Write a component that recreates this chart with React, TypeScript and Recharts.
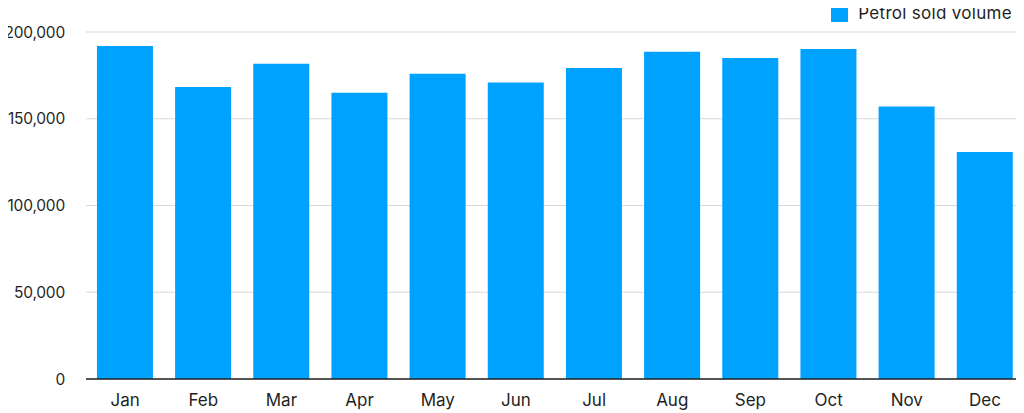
import React from "react";
import { BarChart, Bar, XAxis, YAxis, CartesianGrid, Legend } from "recharts";

const months = ["Jan", "Feb", "Mar", "Apr", "May", "Jun", "Jul", "Aug", "Sep", "Oct", "Nov", "Dec"];
const petrolVolume = [191900, 168300, 181700, 165000, 175900, 170900, 179200, 188600, 185000, 190200, 157100, 130800];
const yTicks = [0, 50000, 100000, 150000, 200000];
const seriesName = "Petrol sold volume";
const barColor = "#00a2ff";

const data = months.map((m, i) => ({ month: m, volume: petrolVolume[i] }));

const FONT = "Inter, 'Open Sans', sans-serif";

const LegendContent = () => (
  <div
    style={{
      display: "flex",
      alignItems: "center",
      fontFamily: FONT,
      fontSize: 17,
      letterSpacing: 0.3,
      color: "#1f1f1f",
      whiteSpace: "nowrap",
    }}
  >
    <span style={{ display: "inline-block", width: 17, height: 17, background: barColor, marginRight: 10 }} />
    <span>{seriesName}</span>
  </div>
);

export default function App() {
  return (
    <div style={{ margin: "-8px 0 0 -8px", width: 1024, height: 413, background: "#fff" }}>
      <BarChart
        width={1024}
        height={413}
        data={data}
        margin={{ top: 32, right: 0, bottom: 0, left: 0 }}
        barCategoryGap="14%"
      >
        <CartesianGrid vertical={false} stroke="#d9d9d9" />
        <XAxis
          dataKey="month"
          height={34}
          tickLine={false}
          tickSize={0}
          tickMargin={15}
          axisLine={{ stroke: "#222", strokeWidth: 1.5 }}
          tick={{ fill: "#1f1f1f", fontSize: 17, fontFamily: FONT }}
          interval={0}
        />
        <YAxis
          width={86}
          domain={[0, 200000]}
          ticks={yTicks}
          tickFormatter={(v: number) => v.toLocaleString("en-US")}
          tickLine={false}
          axisLine={false}
          tickSize={0}
          tickMargin={21}
          tick={{ fill: "#1f1f1f", fontSize: 15.5, fontFamily: FONT, style: { letterSpacing: "-0.2px" } }}
        />
        <Legend
          verticalAlign="middle"
          align="center"
          content={<LegendContent />}
          wrapperStyle={{ top: 3, right: 12, left: "auto", bottom: "auto", width: "auto" }}
        />
        <Bar dataKey="volume" name={seriesName} fill={barColor} isAnimationActive={false} />
      </BarChart>
    </div>
  );
}
